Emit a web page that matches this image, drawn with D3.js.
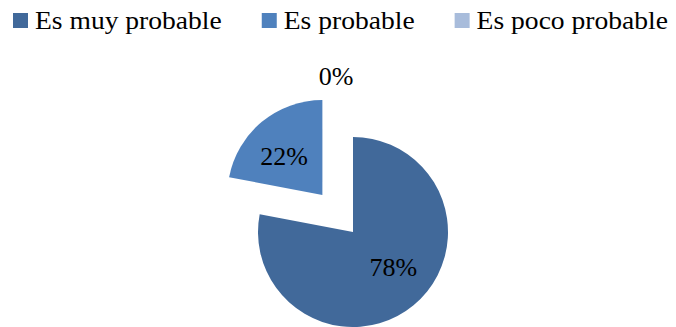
<html>
<head>
<meta charset="UTF-8" />
</head>
<body style="margin:0">
<script src="https://d3js.org/d3.v7.min.js" charset="utf-8"></script>
<script>
var width = 676;
var height = 327;

var categories = ["Es muy probable", "Es probable", "Es poco probable"];
var values = [78, 22, 0];
var labels = ["78%", "22%", "0%"];
var colors = ["#41699a", "#4f81bd", "#a8bcdb"];

var svg = d3.select("body")
			.append("svg")
			.attr("width", width)
			.attr("height", height)
			.style("font-family", "'Liberation Serif', serif");

// legend
var legend = svg.append("g");
var lx = 13;
categories.forEach(function(c, i){
	legend.append("rect")
		  .attr("x", lx)
		  .attr("y", 13)
		  .attr("width", 15)
		  .attr("height", 15)
		  .attr("fill", colors[i]);
	var t = legend.append("text")
		  .attr("x", lx + 22)
		  .attr("y", 29)
		  .attr("font-size", 26)
		  .attr("fill", "#000")
		  .text(c);
	// original font runs a little wider
	var w = t.node().getComputedTextLength() * 1.06;
	t.attr("textLength", w).attr("lengthAdjust", "spacingAndGlyphs");
	lx += 22 + w + 40;
});

var cx = 353, cy = 232, r = 95;

var pie = d3.pie().sort(null).value(d => d);
var arcs = pie(values);
var arc = d3.arc().innerRadius(0).outerRadius(r);

// exploded slices: everything except the first
var explode = [0, 48, 48];

var g = svg.append("g").attr("transform", "translate(" + cx + "," + cy + ")");

g.selectAll("path")
 .data(arcs)
 .enter()
 .append("path")
 .attr("d", arc)
 .attr("fill", (d, i) => colors[i])
 .attr("transform", function(d, i){
	var a = (d.startAngle + d.endAngle) / 2;
	return "translate(" + (Math.sin(a) * explode[i]) + "," + (-Math.cos(a) * explode[i]) + ")";
 });

// labels
var labelR = [54, 54, 108];
var nudge = [[6, -6], [-4, 3], [-17, 0]];
g.selectAll("text")
 .data(arcs)
 .enter()
 .append("text")
 .attr("text-anchor", "middle")
 .attr("dominant-baseline", "central")
 .attr("font-size", 26)
 .attr("fill", "#000")
 .attr("x", function(d, i){
	var a = (d.startAngle + d.endAngle) / 2;
	return Math.sin(a) * (labelR[i] + explode[i]) + nudge[i][0];
 })
 .attr("y", function(d, i){
	var a = (d.startAngle + d.endAngle) / 2;
	return -Math.cos(a) * (labelR[i] + explode[i]) + nudge[i][1];
 })
 .text((d, i) => labels[i]);
</script>
</body>
</html>
